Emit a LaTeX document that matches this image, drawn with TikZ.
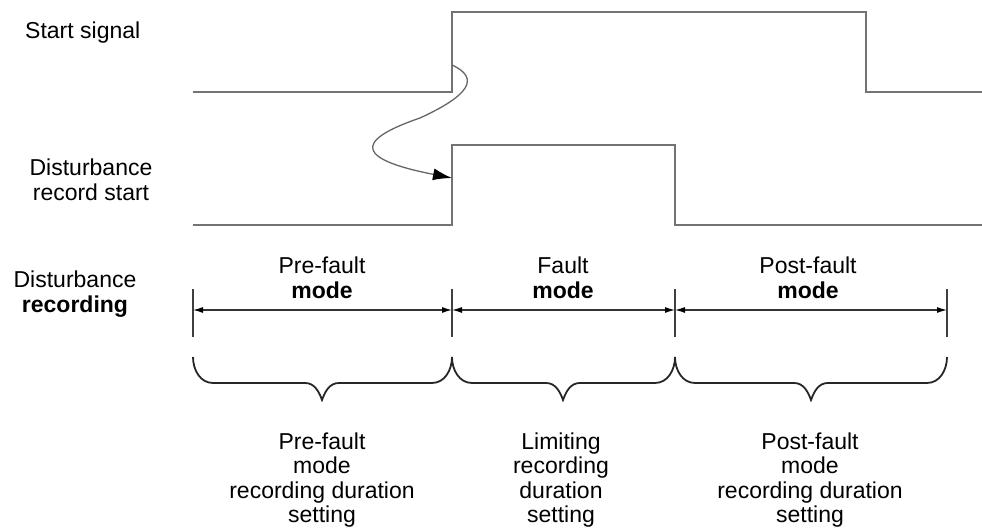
\documentclass[tikz,border=0pt]{standalone}
\usepackage{fontspec}
\setmainfont{Liberation Sans}
\usepackage{tikz}
\usetikzlibrary{arrows.meta}
\begin{document}
\begin{tikzpicture}[
    x=1pt, y=1pt,
    sig/.style={line width=1.6pt, black!55, line join=miter},
    dimln/.style={line width=1.2pt, black!80,
      {Latex[length=10pt,width=6pt,black]}-{Latex[length=10pt,width=6pt,black]}},
    tick/.style={line width=1.4pt, black!75},
    brc/.style={line width=1.8pt, black!85},
    trig/.style={line width=1.3pt, black!60,
      -{Latex[length=19pt,width=12pt,black]}},
    lbl/.style={inner sep=0pt, align=center,
      font=\fontsize{23}{24.5}\selectfont},
  ]
    \useasboundingbox (0,0) rectangle (982,530);
    % row labels
    \node[lbl, anchor=west] (startlbl) at (25,497) {Start signal};
    \node[lbl] (reclbl) at (91,350) {Disturbance\\record start};
    \node[lbl] (dislbl) at (75,236) {Disturbance\\\textbf{recording}};
    % signals
    \coordinate (srise) at (452,465);
    \coordinate (drise) at (452,352);
    \draw[sig] (193,438) -- (452,438) -- (452,518) -- (866,518)
      -- (866,438) -- (982,438);
    \draw[sig] (193,305) -- (452,305) -- (452,385) -- (675,385)
      -- (675,305) -- (982,305);
    % start signal triggers the record
    \draw[trig] (srise) .. controls (480,452) and (470,435) .. (420,412)
      .. controls (350,388) and (360,370) .. (drise);
    % durations
    \foreach \x [count=\i from 0] in {193,452,675,947} {
      \coordinate (t\i) at (\x,220);
      \draw[tick] (\x,241) -- (\x,193);
    }
    \draw[dimln] (t0) -- (t1);
    \draw[dimln] (t1) -- (t2);
    \draw[dimln] (t2) -- (t3);
    \node[lbl] (premode) at (322,252) {Pre-fault\\\textbf{mode}};
    \node[lbl] (faultmode) at (563,252) {Fault\\\textbf{mode}};
    \node[lbl] (postmode) at (808,252) {Post-fault\\\textbf{mode}};
    % braces
    \foreach \a/\m/\b in {193/322/452, 452/563/675, 675/811/947}
      \draw[brc] (\a,173) to[out=-90,in=180] (\a+20,147) -- (\m-17,147)
        to[out=0,in=110] (\m,130) to[out=70,in=180] (\m+17,147)
        -- (\b-20,147) to[out=0,in=-90] (\b,173);
    \node[lbl] (prenote) at (322,50)
      {Pre-fault\\mode\\recording duration\\setting};
    \node[lbl] (faultnote) at (561,50)
      {Limiting\\recording\\duration\\setting};
    \node[lbl] (postnote) at (810,50)
      {Post-fault\\mode\\recording duration\\setting};
\end{tikzpicture}
\end{document}
